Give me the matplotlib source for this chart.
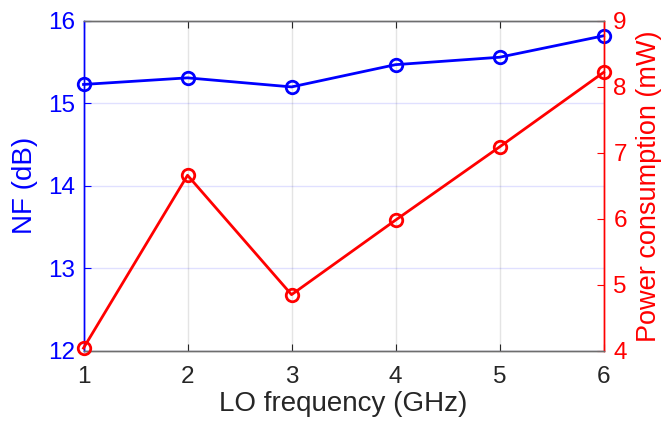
import matplotlib
matplotlib.use("Agg")
import matplotlib.pyplot as plt

# LO frequency sweep
lo_freq = [1, 2, 3, 4, 5, 6]
nf_db = [15.23, 15.31, 15.20, 15.47, 15.56, 15.82]
power_mw = [4.04, 6.66, 4.85, 5.98, 7.09, 8.22]

nf_ticks = [12, 13, 14, 15, 16]
power_ticks = [4, 5, 6, 7, 8, 9]

plt.rcParams['font.family'] = ['Liberation Sans', 'DejaVu Sans']

BLUE = (0, 0, 1)
RED = (1, 0, 0)
DARK = '#262626'

fig = plt.figure(figsize=(6.65, 4.28), dpi=100)
ax = fig.add_axes([0.1256, 0.1806, 0.782, 0.7704])
ax2 = ax.twinx()

ax.plot(lo_freq, nf_db, color=BLUE, linewidth=2, marker='o', markersize=9,
        markerfacecolor='none', markeredgewidth=2, clip_on=False, zorder=3)
ax2.plot(lo_freq, power_mw, color=RED, linewidth=2, marker='o', markersize=9,
         markerfacecolor='none', markeredgewidth=2, clip_on=False, zorder=3)

ax.set_xlim(1, 6)
ax.set_ylim(12, 16)
ax2.set_ylim(4, 9)
ax.set_xticks(lo_freq)
ax.set_yticks(nf_ticks)
ax2.set_yticks(power_ticks)

# grid: gray vertical, light blue horizontal
ax.grid(True, axis='x', color=DARK, alpha=0.12, linewidth=1)
ax.grid(True, axis='y', color=BLUE, alpha=0.12, linewidth=1)
ax.set_axisbelow(True)

ax.set_xlabel('LO frequency (GHz)', fontsize=20, color=DARK, labelpad=2)
ax.set_ylabel('NF (dB)', fontsize=20, color=BLUE, labelpad=7)
ax2.set_ylabel('Power consumption (mW)', fontsize=19.5, color=RED, labelpad=7)

ax.tick_params(axis='x', direction='in', length=5, colors=DARK, labelsize=17.5,
               top=True, pad=11)
ax.tick_params(axis='y', direction='in', length=5, colors=BLUE, labelsize=17.5, pad=6)
ax2.tick_params(axis='y', direction='in', length=5, colors=RED, labelsize=17.5, pad=7)

for a in (ax, ax2):
    a.spines['top'].set_color('#6e6e6e')
    a.spines['bottom'].set_color('#6e6e6e')
    a.spines['left'].set_color(BLUE)
    a.spines['right'].set_color(RED)
    for s in a.spines.values():
        s.set_linewidth(1)

fig.savefig('out.png', dpi=100)
